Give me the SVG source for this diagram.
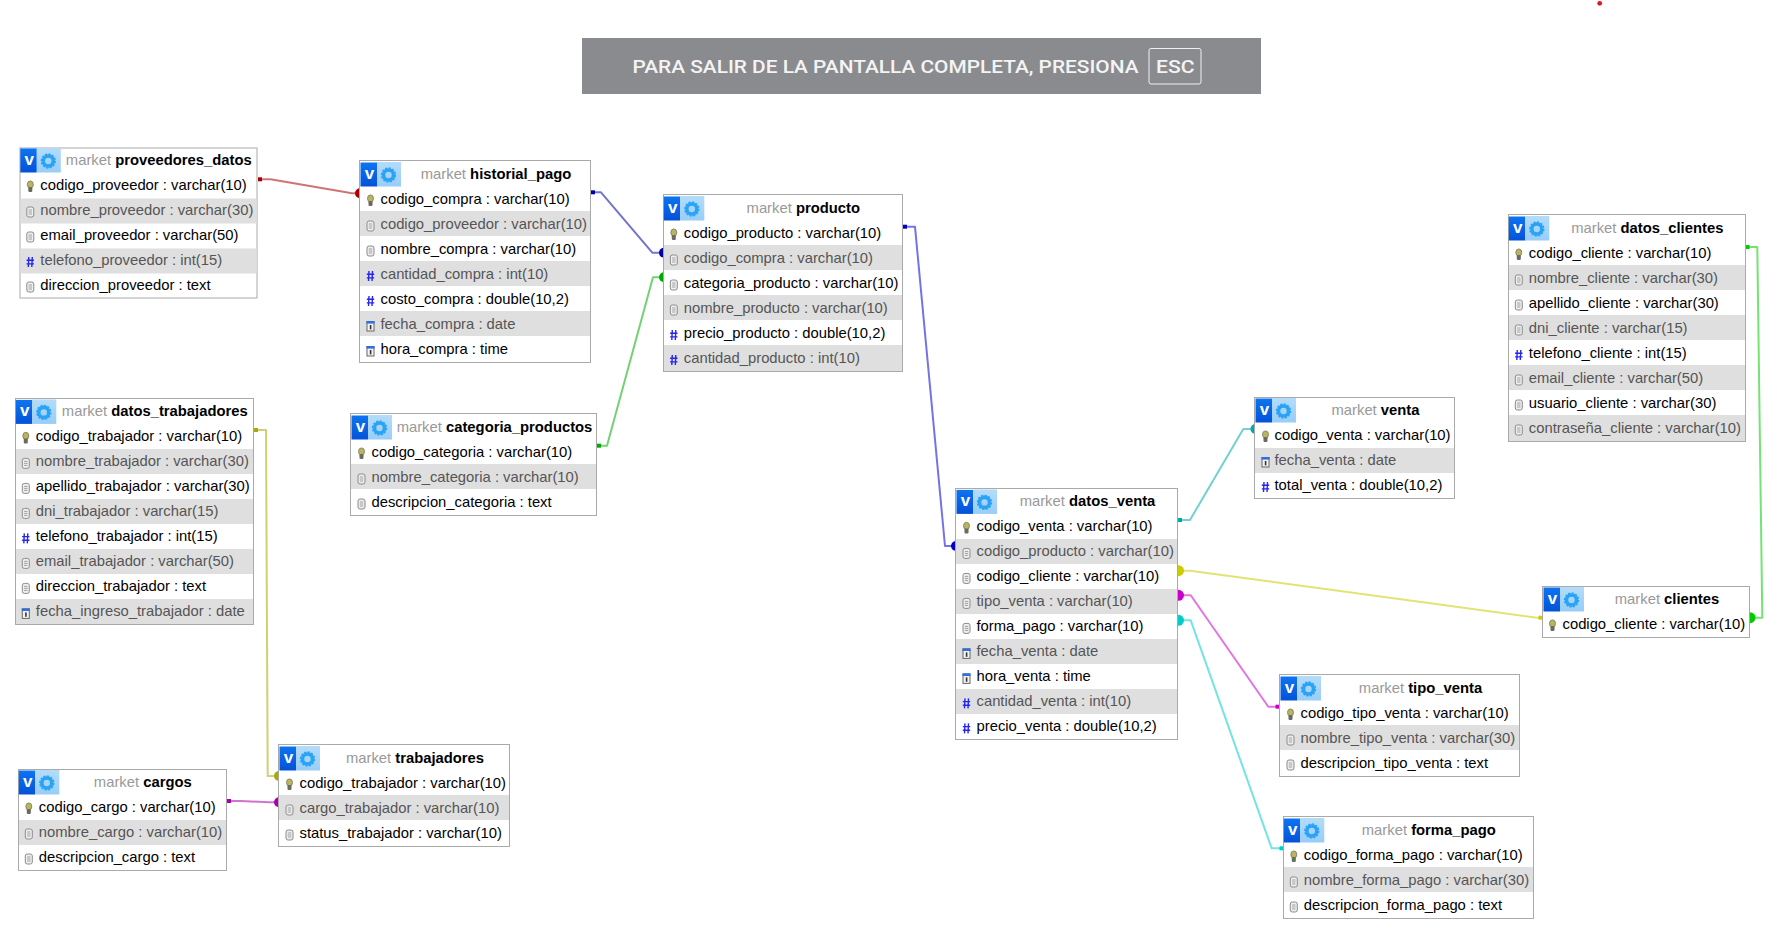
<svg xmlns="http://www.w3.org/2000/svg" width="1792" height="942" viewBox="0 0 1792 942">
<style>
text{font-family:"Liberation Sans",Arial,sans-serif;font-size:14.8px;fill:#000}
.g{fill:#555}
.h{text-anchor:middle}
.m{fill:#999}
.b{font-weight:bold}
.v{font-weight:bold;font-size:17px;fill:#fff;text-anchor:middle}
.frame{fill:#fff;stroke:#aaa;stroke-width:1}
.band{fill:#dfdfdf}
.banner{font-family:Roboto,"Liberation Sans",sans-serif;font-size:18px;font-weight:500;fill:#f4f4f4}
.ln{fill:none;stroke-width:2;stroke-opacity:.55;stroke-linejoin:round}
.sa>text,.sa>use{transform:translate(0,1px)}
.sb>text,.sb>use{transform:translate(-.7px,1px)}
.sc>text,.sc>use{transform:translate(-.7px,-.5px)}
.sd>text,.sd>use{transform:translate(-.7px,.4px)}
.se>text,.se>use{transform:translate(-.7px,0)}
.sf>text,.sf>use{transform:translate(0,.4px)}
</style>
<defs>
<linearGradient id="blue" x1="0" y1="0" x2="0" y2="1"><stop offset="0" stop-color="#0d74f0"/><stop offset="1" stop-color="#0452d8"/></linearGradient>
<linearGradient id="light" x1="0" y1="0" x2="0" y2="1"><stop offset="0" stop-color="#b4dcfa"/><stop offset="1" stop-color="#98cdf8"/></linearGradient>
<g id="hdr">
<rect x="1" y="1" width="16.5" height="24" fill="url(#blue)"/>
<rect x="17.5" y="0.5" width="24" height="24.5" fill="url(#light)"/>
<circle cx="29" cy="13.5" r="5" fill="none" stroke="#2ba3f5" stroke-width="3.6"/>
<circle cx="29" cy="13.5" r="7" fill="none" stroke="#2ba3f5" stroke-width="1.4" stroke-dasharray="2.2 1.46"/>
</g>
<g id="k">
<ellipse cx="0" cy="-2" rx="3" ry="3.6" fill="#b9b55f" stroke="#77775a" stroke-width=".8"/>
<rect x="-2" y="0.5" width="4" height="5" rx="1.2" fill="#6a6a60"/>
</g>
<g id="c">
<rect x="-3.5" y="-4.5" width="7" height="10" rx="2" fill="#eee" stroke="#8c8c8c" stroke-width="1"/>
<path d="M-1.7-1.5H1.7M-1.7 .5H1.7M-1.7 2.5H1.7" stroke="#999" stroke-width=".9" fill="none"/>
</g>
<path id="n" d="M-1.5-4.5L-2 5.5M2-4.5L1.5 5.5M-3.7-1.3H3.7M-3.7 2.4H3.7" stroke="#2525ee" stroke-width="1.4" fill="none"/>
<g id="d">
<rect x="-3.5" y="-4" width="7" height="9.5" fill="#f4f4f4" stroke="#666" stroke-width="1"/>
<rect x="-4" y="-4.5" width="8" height="2.6" fill="#2f6fe0"/>
<rect x="-.7" y="-.5" width="1.6" height="4.4" fill="#333"/>
</g>
</defs>
<rect width="1792" height="942" fill="#fff"/>
<circle cx="1599.7" cy="3.3" r="2.4" fill="#e8141c"/>
<g id="fullscreen-notice">
<rect x="582" y="38" width="679" height="56" fill="#8a8b8e"/>
<text class="banner" x="632.5" y="73" textLength="506" lengthAdjust="spacingAndGlyphs">PARA SALIR DE LA PANTALLA COMPLETA, PRESIONA</text>
<rect x="1149" y="48.5" width="52" height="35.5" rx="2" fill="none" stroke="#f0f0f0" stroke-width="1"/>
<text class="banner" x="1156" y="73" textLength="38.5" lengthAdjust="spacingAndGlyphs">ESC</text>
</g>
<g id="connectors">
<g fill="#aa0000"><path class="ln" stroke="#aa0000" d="M258 179.3H270.5L352 193.3H360"/><rect x="258" y="177.3" width="4" height="4"/><circle cx="360" cy="193.3" r="5"/></g>
<g fill="#0000aa"><path class="ln" stroke="#0000aa" d="M591 192.3H601L652.3 252.7H663"/><rect x="591" y="190.3" width="4" height="4"/><circle cx="664" cy="252.7" r="5"/></g>
<g fill="#00aa00"><path class="ln" stroke="#00aa00" d="M597 445.7H607L653 277.3H663"/><rect x="597" y="443.7" width="4" height="4"/><circle cx="664" cy="277.3" r="5"/></g>
<g fill="#0000cc"><path class="ln" stroke="#0000cc" d="M903 226.7H915L945 546H955"/><rect x="903" y="224.7" width="4" height="4"/><circle cx="956" cy="546" r="5"/></g>
<g fill="#00aaaa"><path class="ln" stroke="#00aaaa" d="M1178 520H1190L1243.3 429H1255"/><rect x="1178" y="518" width="4" height="4"/><circle cx="1255.5" cy="429" r="5"/></g>
<g fill="#cccc00"><path class="ln" stroke="#cccc00" d="M1178 570.7H1190L1537 617.7H1543"/><rect x="1538.5" y="615.7" width="4" height="4"/><circle cx="1178.5" cy="570.7" r="5.5"/></g>
<g fill="#cc00cc"><path class="ln" stroke="#cc00cc" d="M1178 595.3H1190.7L1268.3 706.7H1280"/><rect x="1275.5" y="704.7" width="4" height="4"/><circle cx="1178.5" cy="595.3" r="5.5"/></g>
<g fill="#00cccc"><path class="ln" stroke="#00cccc" d="M1178 620.3H1190.7L1271.7 848.3H1284"/><rect x="1279.5" y="846.3" width="4" height="4"/><circle cx="1178.5" cy="620.3" r="5.5"/></g>
<g fill="#00cc00"><path class="ln" stroke="#00cc00" d="M1746 247H1757.3L1762.3 617.7H1750"/><rect x="1745.5" y="245" width="4" height="4"/><circle cx="1750" cy="617.7" r="5.5"/></g>
<g fill="#aaaa00"><path class="ln" stroke="#aaaa00" d="M254 430H266L267.7 776H279"/><rect x="254" y="428" width="4" height="4"/><circle cx="279" cy="776" r="5"/></g>
<g fill="#aa00aa"><path class="ln" stroke="#aa00aa" d="M227 801H241L269 802.3H279"/><rect x="227" y="799" width="4" height="4"/><circle cx="279" cy="802.3" r="5"/></g>
</g>
<g id="table-proveedores_datos" class="sc" transform="translate(20 148)">
<rect class="frame" width="237" height="150"/><rect class="band" x=".5" y="50.5" width="236" height="25"/><rect class="band" x=".5" y="100.5" width="236" height="25"/>
<use href="#hdr"/><text class="v" x="10" y="17.5">v</text>
<text class="h" x="139.5" y="17.5"><tspan class="m">market </tspan><tspan class="b">proveedores_datos</tspan></text>
<use href="#k" x="11" y="39"/><text x="21" y="42.5">codigo_proveedor : varchar(10)</text>
<use href="#c" x="11" y="64"/><text class="g" x="21" y="67.5">nombre_proveedor : varchar(30)</text>
<use href="#c" x="11" y="89"/><text x="21" y="92.5">email_proveedor : varchar(50)</text>
<use href="#n" x="11" y="114"/><text class="g" x="21" y="117.5">telefono_proveedor : int(15)</text>
<use href="#c" x="11" y="139"/><text x="21" y="142.5">direccion_proveedor : text</text>
</g>
<g id="table-historial_pago" class="sa" transform="translate(359.500 160.500)">
<rect class="frame" width="231" height="202"/><rect class="band" x=".5" y="50.5" width="230" height="25"/><rect class="band" x=".5" y="100.5" width="230" height="25"/><rect class="band" x=".5" y="150.5" width="230" height="25"/>
<use href="#hdr"/><text class="v" x="10" y="17.5">v</text>
<text class="h" x="136.500" y="17.5"><tspan class="m">market </tspan><tspan class="b">historial_pago</tspan></text>
<use href="#k" x="11" y="39"/><text x="21" y="42.5">codigo_compra : varchar(10)</text>
<use href="#c" x="11" y="64"/><text class="g" x="21" y="67.5">codigo_proveedor : varchar(10)</text>
<use href="#c" x="11" y="89"/><text x="21" y="92.5">nombre_compra : varchar(10)</text>
<use href="#n" x="11" y="114"/><text class="g" x="21" y="117.5">cantidad_compra : int(10)</text>
<use href="#n" x="11" y="139"/><text x="21" y="142.5">costo_compra : double(10,2)</text>
<use href="#d" x="11" y="164"/><text class="g" x="21" y="167.5">fecha_compra : date</text>
<use href="#d" x="11" y="189"/><text x="21" y="192.5">hora_compra : time</text>
</g>
<g id="table-producto" class="sb" transform="translate(663.500 194.500)">
<rect class="frame" width="239" height="177"/><rect class="band" x=".5" y="50.5" width="238" height="25"/><rect class="band" x=".5" y="100.5" width="238" height="25"/><rect class="band" x=".5" y="150.5" width="238" height="26"/>
<use href="#hdr"/><text class="v" x="10" y="17.5">v</text>
<text class="h" x="140.500" y="17.5"><tspan class="m">market </tspan><tspan class="b">producto</tspan></text>
<use href="#k" x="11" y="39"/><text x="21" y="42.5">codigo_producto : varchar(10)</text>
<use href="#c" x="11" y="64"/><text class="g" x="21" y="67.5">codigo_compra : varchar(10)</text>
<use href="#c" x="11" y="89"/><text x="21" y="92.5">categoria_producto : varchar(10)</text>
<use href="#c" x="11" y="114"/><text class="g" x="21" y="117.5">nombre_producto : varchar(10)</text>
<use href="#n" x="11" y="139"/><text x="21" y="142.5">precio_producto : double(10,2)</text>
<use href="#n" x="11" y="164"/><text class="g" x="21" y="167.5">cantidad_producto : int(10)</text>
</g>
<g id="table-categoria_productos" class="sa" transform="translate(350.500 413.500)">
<rect class="frame" width="246" height="102"/><rect class="band" x=".5" y="50.5" width="245" height="25"/>
<use href="#hdr"/><text class="v" x="10" y="17.5">v</text>
<text class="h" x="144" y="17.5"><tspan class="m">market </tspan><tspan class="b">categoria_productos</tspan></text>
<use href="#k" x="11" y="39"/><text x="21" y="42.5">codigo_categoria : varchar(10)</text>
<use href="#c" x="11" y="64"/><text class="g" x="21" y="67.5">nombre_categoria : varchar(10)</text>
<use href="#c" x="11" y="89"/><text x="21" y="92.5">descripcion_categoria : text</text>
</g>
<g id="table-datos_trabajadores" class="sd" transform="translate(15.500 398.500)">
<rect class="frame" width="238" height="226"/><rect class="band" x=".5" y="50.5" width="237" height="25"/><rect class="band" x=".5" y="100.5" width="237" height="25"/><rect class="band" x=".5" y="150.5" width="237" height="25"/><rect class="band" x=".5" y="200.5" width="237" height="25"/>
<use href="#hdr"/><text class="v" x="10" y="17.5">v</text>
<text class="h" x="140" y="17.5"><tspan class="m">market </tspan><tspan class="b">datos_trabajadores</tspan></text>
<use href="#k" x="11" y="39"/><text x="21" y="42.5">codigo_trabajador : varchar(10)</text>
<use href="#c" x="11" y="64"/><text class="g" x="21" y="67.5">nombre_trabajador : varchar(30)</text>
<use href="#c" x="11" y="89"/><text x="21" y="92.5">apellido_trabajador : varchar(30)</text>
<use href="#c" x="11" y="114"/><text class="g" x="21" y="117.5">dni_trabajador : varchar(15)</text>
<use href="#n" x="11" y="139"/><text x="21" y="142.5">telefono_trabajador : int(15)</text>
<use href="#c" x="11" y="164"/><text class="g" x="21" y="167.5">email_trabajador : varchar(50)</text>
<use href="#c" x="11" y="189"/><text x="21" y="192.5">direccion_trabajador : text</text>
<use href="#d" x="11" y="214"/><text class="g" x="21" y="217.5">fecha_ingreso_trabajador : date</text>
</g>
<g id="table-trabajadores" class="sa" transform="translate(278.500 744.500)">
<rect class="frame" width="231" height="102"/><rect class="band" x=".5" y="50.5" width="230" height="25"/>
<use href="#hdr"/><text class="v" x="10" y="17.5">v</text>
<text class="h" x="136.500" y="17.5"><tspan class="m">market </tspan><tspan class="b">trabajadores</tspan></text>
<use href="#k" x="11" y="39"/><text x="21" y="42.5">codigo_trabajador : varchar(10)</text>
<use href="#c" x="11" y="64"/><text class="g" x="21" y="67.5">cargo_trabajador : varchar(10)</text>
<use href="#c" x="11" y="89"/><text x="21" y="92.5">status_trabajador : varchar(10)</text>
</g>
<g id="table-cargos" class="se" transform="translate(18.500 769.500)">
<rect class="frame" width="208" height="101"/><rect class="band" x=".5" y="50.5" width="207" height="25"/>
<use href="#hdr"/><text class="v" x="10" y="17.5">v</text>
<text class="h" x="125" y="17.5"><tspan class="m">market </tspan><tspan class="b">cargos</tspan></text>
<use href="#k" x="11" y="39"/><text x="21" y="42.5">codigo_cargo : varchar(10)</text>
<use href="#c" x="11" y="64"/><text class="g" x="21" y="67.5">nombre_cargo : varchar(10)</text>
<use href="#c" x="11" y="89"/><text x="21" y="92.5">descripcion_cargo : text</text>
</g>
<g id="table-datos_venta" class="sf" transform="translate(955.500 488.500)">
<rect class="frame" width="222" height="251"/><rect class="band" x=".5" y="50.5" width="221" height="25"/><rect class="band" x=".5" y="100.5" width="221" height="25"/><rect class="band" x=".5" y="150.5" width="221" height="25"/><rect class="band" x=".5" y="200.5" width="221" height="25"/>
<use href="#hdr"/><text class="v" x="10" y="17.5">v</text>
<text class="h" x="132" y="17.5"><tspan class="m">market </tspan><tspan class="b">datos_venta</tspan></text>
<use href="#k" x="11" y="39"/><text x="21" y="42.5">codigo_venta : varchar(10)</text>
<use href="#c" x="11" y="64"/><text class="g" x="21" y="67.5">codigo_producto : varchar(10)</text>
<use href="#c" x="11" y="89"/><text x="21" y="92.5">codigo_cliente : varchar(10)</text>
<use href="#c" x="11" y="114"/><text class="g" x="21" y="117.5">tipo_venta : varchar(10)</text>
<use href="#c" x="11" y="139"/><text x="21" y="142.5">forma_pago : varchar(10)</text>
<use href="#d" x="11" y="164"/><text class="g" x="21" y="167.5">fecha_venta : date</text>
<use href="#d" x="11" y="189"/><text x="21" y="192.5">hora_venta : time</text>
<use href="#n" x="11" y="214"/><text class="g" x="21" y="217.5">cantidad_venta : int(10)</text>
<use href="#n" x="11" y="239"/><text x="21" y="242.5">precio_venta : double(10,2)</text>
</g>
<g id="table-venta" transform="translate(1254.500 397.500)">
<rect class="frame" width="200" height="101"/><rect class="band" x=".5" y="50.5" width="199" height="25"/>
<use href="#hdr"/><text class="v" x="10" y="17.5">v</text>
<text class="h" x="121" y="17.5"><tspan class="m">market </tspan><tspan class="b">venta</tspan></text>
<use href="#k" x="11" y="39"/><text x="20" y="42.5">codigo_venta : varchar(10)</text>
<use href="#d" x="11" y="64"/><text class="g" x="20" y="67.5">fecha_venta : date</text>
<use href="#n" x="11" y="89"/><text x="20" y="92.5">total_venta : double(10,2)</text>
</g>
<g id="table-datos_clientes" class="sb" transform="translate(1508.500 214.500)">
<rect class="frame" width="237" height="227"/><rect class="band" x=".5" y="50.5" width="236" height="25"/><rect class="band" x=".5" y="100.5" width="236" height="25"/><rect class="band" x=".5" y="150.5" width="236" height="25"/><rect class="band" x=".5" y="200.5" width="236" height="26"/>
<use href="#hdr"/><text class="v" x="10" y="17.5">v</text>
<text class="h" x="139.500" y="17.5"><tspan class="m">market </tspan><tspan class="b">datos_clientes</tspan></text>
<use href="#k" x="11" y="39"/><text x="21" y="42.5">codigo_cliente : varchar(10)</text>
<use href="#c" x="11" y="64"/><text class="g" x="21" y="67.5">nombre_cliente : varchar(30)</text>
<use href="#c" x="11" y="89"/><text x="21" y="92.5">apellido_cliente : varchar(30)</text>
<use href="#c" x="11" y="114"/><text class="g" x="21" y="117.5">dni_cliente : varchar(15)</text>
<use href="#n" x="11" y="139"/><text x="21" y="142.5">telefono_cliente : int(15)</text>
<use href="#c" x="11" y="164"/><text class="g" x="21" y="167.5">email_cliente : varchar(50)</text>
<use href="#c" x="11" y="189"/><text x="21" y="192.5">usuario_cliente : varchar(30)</text>
<use href="#c" x="11" y="214"/><text class="g" x="21" y="217.5">contraseña_cliente : varchar(10)</text>
</g>
<g id="table-clientes" transform="translate(1542.500 586.500)">
<rect class="frame" width="207" height="51"/>
<use href="#hdr"/><text class="v" x="10" y="17.5">v</text>
<text class="h" x="124.500" y="17.5"><tspan class="m">market </tspan><tspan class="b">clientes</tspan></text>
<use href="#k" x="10" y="39"/><text x="20" y="42.5">codigo_cliente : varchar(10)</text>
</g>
<g id="table-tipo_venta" class="sa" transform="translate(1279.500 674.500)">
<rect class="frame" width="240" height="102"/><rect class="band" x=".5" y="50.5" width="239" height="25"/>
<use href="#hdr"/><text class="v" x="10" y="17.5">v</text>
<text class="h" x="141" y="17.5"><tspan class="m">market </tspan><tspan class="b">tipo_venta</tspan></text>
<use href="#k" x="11" y="39"/><text x="21" y="42.5">codigo_tipo_venta : varchar(10)</text>
<use href="#c" x="11" y="64"/><text class="g" x="21" y="67.5">nombre_tipo_venta : varchar(30)</text>
<use href="#c" x="11" y="89"/><text x="21" y="92.5">descripcion_tipo_venta : text</text>
</g>
<g id="table-forma_pago" class="sb" transform="translate(1283.500 816.500)">
<rect class="frame" width="250" height="102"/><rect class="band" x=".5" y="50.5" width="249" height="25"/>
<use href="#hdr"/><text class="v" x="10" y="17.5">v</text>
<text class="h" x="146" y="17.5"><tspan class="m">market </tspan><tspan class="b">forma_pago</tspan></text>
<use href="#k" x="11" y="39"/><text x="21" y="42.5">codigo_forma_pago : varchar(10)</text>
<use href="#c" x="11" y="64"/><text class="g" x="21" y="67.5">nombre_forma_pago : varchar(30)</text>
<use href="#c" x="11" y="89"/><text x="21" y="92.5">descripcion_forma_pago : text</text>
</g>
</svg>
